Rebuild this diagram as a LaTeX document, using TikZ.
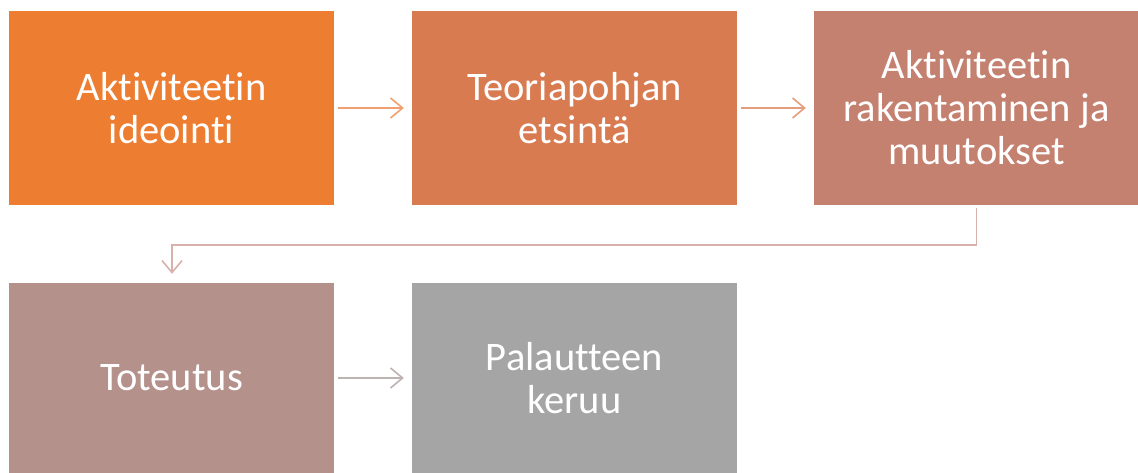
\documentclass[tikz,border=0pt]{standalone}
\usepackage{fontspec}
\setmainfont[RawFeature={-liga;-clig;-calt;-dlig}]{Carlito}
\usetikzlibrary{arrows.meta}
\definecolor{cA}{HTML}{ED7D31}
\definecolor{cB}{HTML}{D97B51}
\definecolor{cC}{HTML}{C48170}
\definecolor{cD}{HTML}{B4918A}
\definecolor{cE}{HTML}{A5A5A5}
\definecolor{aA}{HTML}{F0A070}
\definecolor{aB}{HTML}{E39E7E}
\definecolor{aC}{HTML}{D8B2AA}
\definecolor{aD}{HTML}{BDB3B1}
\tikzset{
  box/.style={rectangle, inner sep=0pt, minimum width=325pt, minimum height=194pt,
    text=white, align=center, font=\fontsize{40.5}{43}\selectfont},
  conn/.style={line width=1.6pt, -{Straight Barb[length=12pt, width=20pt, line width=1.6pt]}}
}
\begin{document}
\begin{tikzpicture}[x=1pt,y=-1pt]
\useasboundingbox (0,0) rectangle (1138,473);
\begin{scope}
\clip (0,0) rectangle (1138,473);
\node[box, fill=cA] (b1) at (171.5,108) {Aktiviteetin\\ideointi};
\node[box, fill=cB] (b2) at (574.5,108) {Teoriapohjan\\etsintä};
\node[box, fill=cC] (b3) at (976.5,108) {Aktiviteetin\\rakentaminen ja\\muutokset};
\node[box, fill=cD, minimum height=190pt] (b4) at (171.5,378) {Toteutus};
\node[box, fill=cE, minimum height=190pt] (b5) at (574.5,378) {Palautteen\\keruu};
\end{scope}
\coordinate (k1) at (976.5,245);
\coordinate (k2) at (172,245);
\draw[conn, draw=aA] ([xshift=4pt]b1.east) -- ([xshift=-8pt]b2.west);
\draw[conn, draw=aB] ([xshift=4pt]b2.east) -- ([xshift=-8pt]b3.west);
\draw[conn, draw=aC] ([yshift=-3pt]b3.south) -- (k1) -- (k2) -- ([yshift=9pt]b4.north -| k2);
\draw[conn, draw=aD] ([xshift=4pt]b4.east) -- ([xshift=-8pt]b5.west);
\end{tikzpicture}
\end{document}
